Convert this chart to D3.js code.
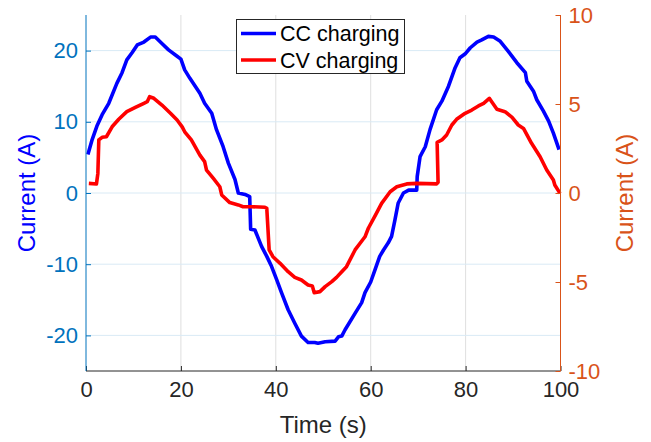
<!DOCTYPE html>
<html><head><meta charset="utf-8">
<script src="https://cdn.jsdelivr.net/npm/d3@7"></script>
<style>body{margin:0;background:#fff}svg{display:block;font-family:"Liberation Sans",Arial,Helvetica,sans-serif}</style>
</head><body>
<script>
const ccTime = [0.4,1.3,2.3,3.4,4.8,6.5,7.6,8.6,9.7,10.8,12.2,13.6,14.6,16.0,17.4,19.2,20.0,20.8,21.9,24.0,25.0,26.5,27.5,28.9,30.0,31.4,32.1,33.5,34.5,34.7,35.6,37.0,38.1,39.1,40.2,41.2,42.6,44.0,45.4,46.8,48.2,48.9,50.4,52.5,53.2,53.9,54.6,56.7,58.1,58.8,60.0,60.9,61.9,62.7,63.7,64.4,65.1,65.8,66.9,68.0,69.7,69.8,70.4,71.5,72.5,73.9,75.0,76.4,77.8,78.8,80.0,81.0,82.4,83.4,84.8,85.9,87.3,89.0,90.8,92.6,92.9,94.3,95.0,96.4,97.5,98.5,99.7];
const ccCurrent = [5.4,7.5,9.4,11.0,12.6,15.4,16.9,18.7,19.7,20.8,21.2,21.9,21.9,21.0,20.1,19.2,18.8,17.3,16.1,14.0,12.6,11.2,8.9,6.5,4.2,1.9,0.0,-0.2,-0.5,-5.1,-5.2,-7.5,-8.9,-10.3,-12.2,-14.0,-16.4,-18.3,-20.1,-21.0,-21.0,-21.1,-20.9,-20.8,-20.2,-20.1,-19.2,-16.9,-15.4,-14.0,-12.5,-10.8,-8.9,-8.0,-7.0,-6.1,-3.8,-1.4,0.0,0.4,0.4,2.3,5.1,6.5,8.9,11.7,12.9,15.0,17.6,19.0,19.6,20.4,21.2,21.5,22.0,21.9,21.3,19.9,18.3,16.9,15.7,14.3,13.1,11.5,10.1,8.4,6.1];
const cvTime = [0.6,2.2,2.5,2.7,3.4,4.3,5.5,6.9,8.6,10.4,12.2,12.9,13.4,14.3,16.0,17.8,19.2,20.3,20.8,22.2,24.0,25.0,25.4,26.8,28.2,28.6,30.3,32.1,33.1,34.9,37.7,38.1,38.6,39.4,40.9,42.6,44.0,45.4,46.8,47.7,48.1,49.3,50.4,51.8,52.8,53.9,54.9,56.7,58.8,59.5,61.0,62.3,64.1,65.5,67.6,69.7,73.9,74.2,74.0,75.0,76.0,77.1,78.1,79.9,81.3,82.7,83.8,85.0,85.5,86.6,88.3,89.8,91.1,92.2,93.9,95.7,97.1,98.5,98.8,99.9];
const cvCurrent = [0.54,0.51,1.1,2.98,3.13,3.16,3.72,4.14,4.57,4.81,5.04,5.13,5.41,5.32,4.94,4.48,4.10,3.7,3.44,2.98,2.13,1.76,1.29,0.83,0.35,-0.11,-0.54,-0.67,-0.77,-0.77,-0.80,-0.86,-3.2,-3.58,-3.95,-4.42,-4.74,-4.89,-5.17,-5.22,-5.6,-5.54,-5.26,-4.98,-4.74,-4.42,-4.14,-3.2,-2.46,-1.98,-1.24,-0.58,0.07,0.35,0.51,0.54,0.51,0.6,2.85,2.98,3.26,3.82,4.14,4.48,4.66,4.89,5.04,5.32,5.13,4.70,4.57,4.25,3.82,3.63,2.79,2.04,1.29,0.73,0.45,-0.02];
const xTicks = [0,20,40,60,80,100];
const leftTicks = [-20,-10,0,10,20];
const rightTicks = [-10,-5,0,5,10];
const seriesNames = ["CC charging","CV charging"];

const W = 651, H = 442;
const m = {left:86, right:560.5, top:15, bottom:371};
const blueAx = "#0072BD", orangeAx = "#D95319", dark = "#262626";
const fmt = d => String(d);

const svg = d3.select("body").append("svg").attr("width",W).attr("height",H);
const x = d3.scaleLinear().domain([0,100]).range([m.left,m.right]);
const yL = d3.scaleLinear().domain([-25,25]).range([m.bottom,m.top]);
const yR = d3.scaleLinear().domain([-10,10]).range([m.bottom,m.top]);

// grid
svg.append("g").selectAll("line").data(xTicks.slice(1,-1)).join("line")
  .attr("x1",d=>x(d)).attr("x2",d=>x(d)).attr("y1",m.top).attr("y2",m.bottom)
  .attr("stroke","#dfdfdf").attr("stroke-width",1);
svg.append("g").selectAll("line").data(leftTicks).join("line")
  .attr("x1",m.left).attr("x2",m.right).attr("y1",d=>yL(d)).attr("y2",d=>yL(d))
  .attr("stroke","#d9eaf5").attr("stroke-width",1);

// lines
const lineL = d3.line().x(d=>x(d[0])).y(d=>yL(d[1]));
const lineR = d3.line().x(d=>x(d[0])).y(d=>yR(d[1]));
svg.append("path").datum(d3.zip(ccTime,ccCurrent)).attr("d",lineL)
  .attr("fill","none").attr("stroke","#0000ff").attr("stroke-width",3.6).attr("stroke-linejoin","round");
svg.append("path").datum(d3.zip(cvTime,cvCurrent)).attr("d",lineR)
  .attr("fill","none").attr("stroke","#ff0000").attr("stroke-width",3.6).attr("stroke-linejoin","round");

// axes
const fs = 22;
const gx = svg.append("g").attr("transform",`translate(0,${m.bottom})`)
  .call(d3.axisBottom(x).tickValues(xTicks).tickSize(-5).tickPadding(10).tickFormat(fmt));
gx.select(".domain").attr("stroke",dark).attr("d",`M${m.left},0H${m.right}`);
gx.selectAll(".tick line").attr("stroke",dark);
gx.selectAll("text").attr("fill",dark).attr("font-size",fs).attr("font-family","Liberation Sans, Arial, sans-serif");

const gl = svg.append("g").attr("transform",`translate(${m.left},0)`)
  .call(d3.axisLeft(yL).tickValues(leftTicks).tickSize(-5).tickPadding(8).tickFormat(fmt));
gl.select(".domain").attr("stroke",blueAx).attr("d",`M0,${m.top}V${m.bottom}`);
gl.selectAll(".tick line").attr("stroke",blueAx);
gl.selectAll("text").attr("fill",blueAx).attr("font-size",fs).attr("font-family","Liberation Sans, Arial, sans-serif");

const gr = svg.append("g").attr("transform",`translate(${m.right},0)`)
  .call(d3.axisRight(yR).tickValues(rightTicks).tickSize(-5).tickPadding(8).tickFormat(fmt));
gr.select(".domain").attr("stroke",orangeAx).attr("d",`M0,${m.top}V${m.bottom}`);
gr.selectAll(".tick line").attr("stroke",orangeAx);
gr.selectAll("text").attr("fill",orangeAx).attr("font-size",fs).attr("font-family","Liberation Sans, Arial, sans-serif");

// axis labels
const lf = 24;
svg.append("text").attr("x",(m.left+m.right)/2).attr("y",433).attr("text-anchor","middle")
  .attr("font-size",lf).attr("fill",dark).text("Time (s)");
svg.append("text").attr("transform",`translate(35,${(m.top+m.bottom)/2}) rotate(-90)`).attr("text-anchor","middle")
  .attr("font-size",lf).attr("fill","#0000ff").text("Current (A)");
svg.append("text").attr("transform",`translate(633,${(m.top+m.bottom)/2}) rotate(-90)`).attr("text-anchor","middle")
  .attr("font-size",lf).attr("fill",orangeAx).text("Current (A)");

// legend
const lg = svg.append("g");
lg.append("rect").attr("x",236.5).attr("y",19.5).attr("width",168).attr("height",54)
  .attr("fill","#fff").attr("stroke",dark).attr("stroke-width",1);
const lcolors = ["#0000ff","#ff0000"];
seriesNames.forEach((n,i)=>{
  const yy = 33.5 + i*26.5;
  lg.append("line").attr("x1",241).attr("x2",276).attr("y1",yy).attr("y2",yy)
    .attr("stroke",lcolors[i]).attr("stroke-width",3.6);
  lg.append("text").attr("x",280).attr("y",yy).attr("dy","0.36em").attr("font-size",21.5)
    .attr("fill","#000").text(n);
});
</script>
</body></html>
